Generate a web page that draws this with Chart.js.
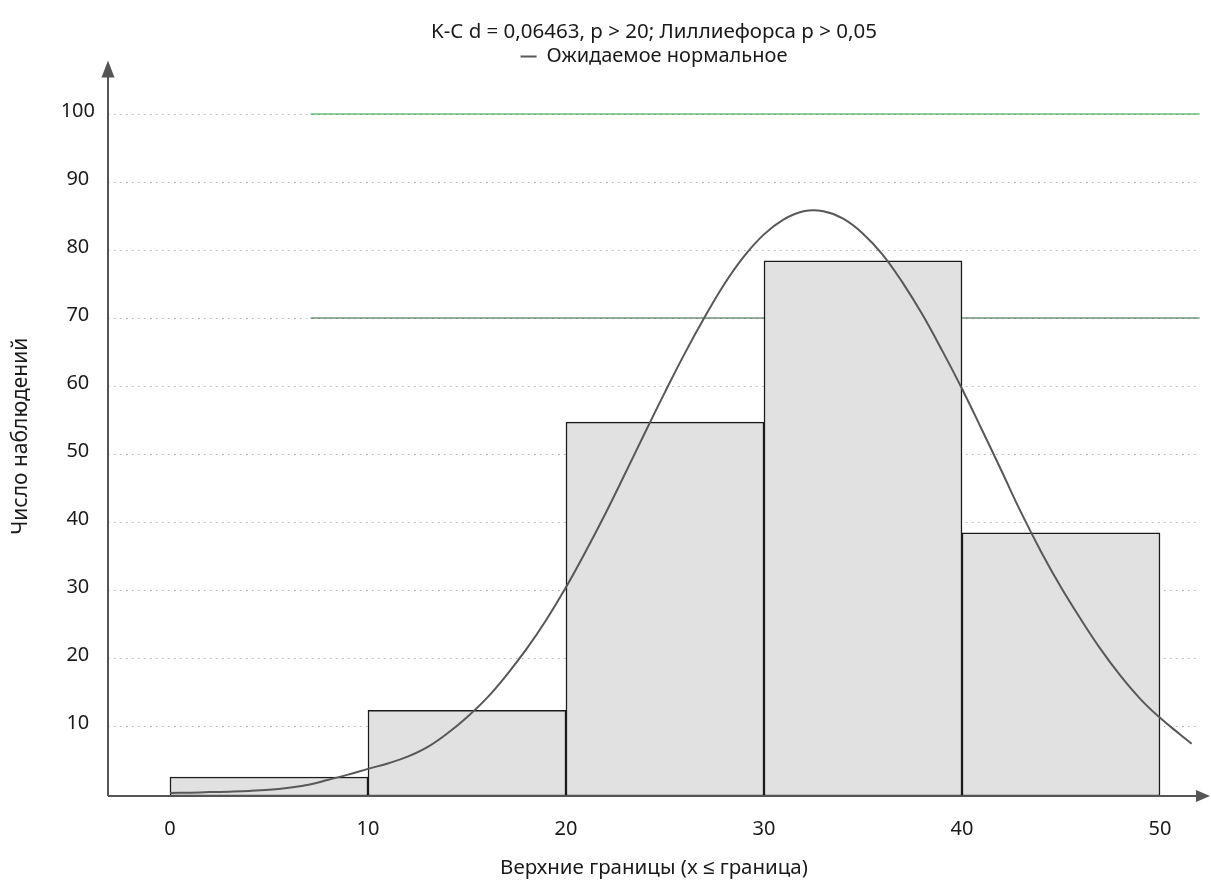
<!DOCTYPE html>
<html lang="ru">
<head>
<meta charset="utf-8">
<title>Гистограмма: Число наблюдений</title>
<script src="https://cdn.jsdelivr.net/npm/chart.js@4.4.1/dist/chart.umd.min.js"></script>
<style>
  html, body { margin: 0; padding: 0; background: #fff; }
  #wrap { width: 1211px; height: 882px; }
</style>
</head>
<body>
<div id="wrap"><canvas id="histChart"></canvas></div>
<script>
// данные гистограммы (верхние границы интервалов и частоты)
const binUpper = [10, 20, 30, 40, 50];
const binWidth = 10;
const binCounts = [2.5, 12.3, 54.7, 78.4, 38.4];

const curveX = [0, 1, 2, 3, 4, 5, 6, 7, 8, 9, 10, 11, 12, 13, 14, 15, 16, 17, 18, 19, 20, 21, 22, 23, 24, 25, 26,
  27, 28, 29, 30, 31, 32, 33, 34, 35, 36, 37, 38, 39, 40, 41, 42, 43, 44, 45, 46, 47, 48, 49, 50, 51, 51.6];
const curveY = [0.15, 0.2, 0.28, 0.35, 0.45, 0.62, 0.92, 1.35, 2.1, 2.85, 3.7, 4.5, 5.5, 6.9, 8.9, 11.3, 14.1, 17.5, 21.3, 25.6, 30.4, 35.7, 41.3, 47.2, 53.2, 59.1, 64.8,
  70.1, 75.0, 79.1, 82.3, 84.5, 85.7, 85.7, 84.6, 82.4, 79.3, 75.2, 70.5, 65.2, 59.6, 53.6, 47.5, 41.3, 35.6, 30.4, 25.7, 21.3, 17.4, 14.0, 11.2, 8.8, 7.4];

// зелёные линии уровня
const refLevels = [100, 70];
const refStart = 7.1;
const refEnd = 52;

const xTicks = [0, 10, 20, 30, 40, 50];
const yTicks = [10, 20, 30, 40, 50, 60, 70, 80, 90, 100];

const xMin = -3.13, xMax = 52.02;
const yMin = -0.29, yMax = 105.5;

Chart.defaults.font.family = "'Noto Sans', sans-serif";
Chart.defaults.font.size = 20;
Chart.defaults.color = '#1a1a1a';

// стрелки на осях
const axisArrows = {
  id: 'axisArrows',
  afterDraw(chart) {
    const ctx = chart.ctx;
    const a = chart.chartArea;
    const tipX = chart.width - 1;
    const tipY = a.top - 16;
    ctx.save();
    ctx.strokeStyle = '#555';
    ctx.fillStyle = '#555';
    ctx.lineWidth = 2;
    ctx.beginPath();
    ctx.moveTo(a.left, a.bottom);
    ctx.lineTo(tipX - 12, a.bottom);
    ctx.moveTo(a.left, a.bottom);
    ctx.lineTo(a.left, tipY + 14);
    ctx.stroke();
    ctx.beginPath();
    ctx.moveTo(tipX, a.bottom);
    ctx.lineTo(tipX - 14, a.bottom - 6);
    ctx.lineTo(tipX - 14, a.bottom + 6);
    ctx.closePath();
    ctx.fill();
    ctx.beginPath();
    ctx.moveTo(a.left, tipY);
    ctx.lineTo(a.left - 6.5, tipY + 17);
    ctx.lineTo(a.left + 6.5, tipY + 17);
    ctx.closePath();
    ctx.fill();
    ctx.restore();
  }
};

const barData = binUpper.map((u, i) => ({ x: u - binWidth / 2, y: binCounts[i] }));
const curveData = curveX.map((x, i) => ({ x: x, y: curveY[i] }));
const refColors = ['#1fa03c', '#2a5e37'];
const refSets = refLevels.map((lvl, i) => ({
  type: 'line',
  label: 'ref' + lvl,
  data: [{ x: refStart, y: lvl }, { x: refEnd, y: lvl }],
  borderColor: refColors[i],
  backgroundColor: refColors[i],
  borderWidth: 1,
  pointRadius: 0,
  order: 3
}));

new Chart(document.getElementById('histChart'), {
  type: 'bar',
  data: {
    datasets: [
      {
        label: 'Наблюдаемое',
        data: barData,
        backgroundColor: '#e1e1e1',
        borderColor: '#1a1a1a',
        borderWidth: 1.5,
        borderSkipped: false,
        base: yMin,
        barPercentage: 1,
        categoryPercentage: 1,
        order: 2
      },
      {
        type: 'line',
        label: 'Ожидаемое нормальное',
        data: curveData,
        borderColor: '#585858',
        backgroundColor: '#585858',
        borderWidth: 2,
        pointRadius: 0,
        pointStyle: 'line',
        tension: 0.4,
        order: 1
      },
      ...refSets
    ]
  },
  options: {
    responsive: true,
    maintainAspectRatio: false,
    animation: false,
    events: [],
    layout: { padding: { left: 0, top: 0, bottom: 0, right: 11 } },
    plugins: {
      title: {
        display: true,
        text: 'K-C d = 0,06463, p > 20; Лиллиефорса p > 0,05',
        fullSize: false,
        font: { size: 20.5, weight: 'normal' },
        color: '#1a1a1a',
        padding: { top: 20, bottom: 0 }
      },
      legend: {
        display: true,
        fullSize: false,
        labels: {
          usePointStyle: true,
          pointStyleWidth: 16,
          padding: 2,
          font: { size: 20 },
          color: '#1a1a1a',
          filter: item => item.text === 'Ожидаемое нормальное'
        }
      },
      tooltip: { enabled: false }
    },
    scales: {
      x: {
        type: 'linear',
        min: xMin,
        max: xMax,
        offset: false,
        afterBuildTicks: s => { s.ticks = xTicks.map(v => ({ value: v })); },
        afterFit: s => { s.height = 86; },
        grid: { display: false, offset: false },
        border: { display: false },
        ticks: { padding: 13, maxRotation: 0, color: '#1a1a1a', font: { size: 20 } },
        title: {
          display: true,
          text: 'Верхние границы (x ≤ граница)',
          color: '#1a1a1a',
          font: { size: 20.5 },
          padding: { bottom: 2 }
        }
      },
      y: {
        type: 'linear',
        min: yMin,
        max: yMax,
        afterBuildTicks: s => { s.ticks = yTicks.map(v => ({ value: v })); },
        afterFit: s => { s.width = 108; },
        grid: { color: '#b4b4b4', lineWidth: 1, drawTicks: false },
        border: { display: false, dash: [1.5, 4.5] },
        ticks: { padding: 13, crossAlign: 'center', labelOffset: -3, color: '#1a1a1a', font: { size: 20 } },
        title: {
          display: true,
          text: 'Число наблюдений',
          color: '#1a1a1a',
          font: { size: 21 },
          padding: { top: 8 }
        }
      }
    }
  },
  plugins: [axisArrows]
});
</script>
</body>
</html>
